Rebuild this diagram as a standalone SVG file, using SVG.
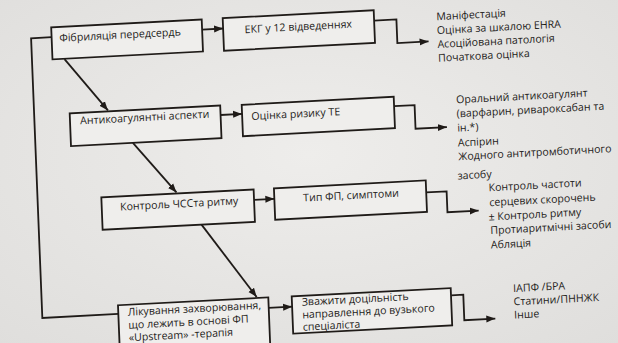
<svg xmlns="http://www.w3.org/2000/svg" width="618" height="343" viewBox="0 0 618 343">
  <defs>
    <marker id="arr" markerUnits="userSpaceOnUse" markerWidth="10" markerHeight="8" refX="9" refY="4" orient="auto">
      <path d="M0,0.5 L9,4 L0,7.5 z" fill="#1f1b18"/>
    </marker>
    <radialGradient id="paper" cx="50%" cy="45%" r="75%">
      <stop offset="0" stop-color="#eeedeb"/>
      <stop offset="1" stop-color="#dfdedc"/>
    </radialGradient>
  </defs>
  <style>
    .box { fill: #efeeec; stroke: #1f1b18; stroke-width: 1.8; }
    .ln { fill: none; stroke: #1f1b18; stroke-width: 1.8; stroke-linejoin: miter; }
    .arr { marker-end: url(#arr); }
    text { font-family: "Open Sans", "Noto Sans", sans-serif; font-size: 10.6px; fill: #1e1c1a; }
  </style>
  <rect width="618" height="343" fill="url(#paper)"/>

  <!-- the printed page sits slightly skewed -->
  <g transform="matrix(1,-0.0524,0.0402,1,-6.874,16.19)">
    <g id="connectors">
      <polyline class="ln" points="57.5,24 37,24 37,303.7 113,303.7"/>
      <line class="ln arr" x1="208" y1="24.3" x2="229" y2="24.3"/>
      <polyline class="ln arr" points="380,24.3 402.3,24.3 402.3,48 433.5,48"/>
      <line class="ln arr" x1="69.5" y1="46.5" x2="110.8" y2="100"/>
      <line class="ln arr" x1="223" y1="110.5" x2="244.5" y2="110.5"/>
      <polyline class="ln arr" points="396.5,110.8 417,110.8 417,134.4 448.4,134.4"/>
      <line class="ln arr" x1="134.4" y1="133.7" x2="175.9" y2="185.5"/>
      <line class="ln arr" x1="253" y1="197" x2="273.3" y2="197"/>
      <polyline class="ln arr" points="425,198.5 445.5,198.5 445.5,219.4 476.7,219.4"/>
      <line class="ln arr" x1="199.6" y1="218.9" x2="251.7" y2="294"/>
      <line class="ln arr" x1="263" y1="305.5" x2="286.7" y2="305.5"/>
      <polyline class="ln arr" points="446,302.5 458,302.5 458,328 489,328"/>
    </g>

    <g id="af">
      <rect class="box" x="57.5" y="14.2" width="150.5" height="32"/>
      <text x="65.2" y="29">Фібриляція передсердь</text>
    </g>
    <g id="ecg">
      <rect class="box" x="229" y="14" width="151" height="32.6"/>
      <text x="250.5" y="30.1">ЕКГ у 12 відведеннях</text>
    </g>
    <g id="ecg-out">
      <text x="442.3" y="27.3">Маніфестація</text>
      <text x="442.3" y="41.1">Оцінка за шкалою EHRA</text>
      <text x="442.3" y="54.9">Асоційована патологія</text>
      <text x="442.3" y="68.7">Початкова оцінка</text>
    </g>
    <g id="anticoag">
      <rect class="box" x="72.5" y="101" width="150.5" height="32.7"/>
      <text x="82.6" y="112.5">Антикоагулянтні аспекти</text>
    </g>
    <g id="te-risk">
      <rect class="box" x="244.5" y="101.4" width="152" height="31.4"/>
      <text x="253.8" y="117">Оцінка ризику ТЕ</text>
    </g>
    <g id="te-out">
      <text x="458.7" y="111.2">Оральний антикоагулянт</text>
      <text x="458.7" y="125.2">(варфарин, ривароксабан та</text>
      <text x="458.7" y="139.4">ін.*)</text>
      <text x="458.7" y="154.4">Аспірин</text>
      <text x="458.7" y="168">Жодного антитромботичного</text>
      <text x="457" y="187.2">засобу</text>
    </g>
    <g id="rate">
      <rect class="box" x="100.7" y="186.5" width="152.3" height="32.4"/>
      <text x="119.1" y="200.6">Контроль ЧССта ритму</text>
    </g>
    <g id="af-type">
      <rect class="box" x="273.3" y="186.5" width="151.8" height="31.4"/>
      <text x="302.1" y="201.2">Тип ФП, симптоми</text>
    </g>
    <g id="rate-out">
      <text x="487.6" y="200.6">Контроль частоти</text>
      <text x="487.6" y="215.5">серцевих скорочень</text>
      <text x="486.3" y="229.8">± Контроль ритму</text>
      <text x="487.6" y="243.5">Протиаритмічні засоби</text>
      <text x="487.6" y="258">Абляція</text>
    </g>
    <g id="upstream">
      <rect class="box" x="113" y="295" width="150.3" height="50"/>
      <text x="122.6" y="306">Лікування захворювання,</text>
      <text x="122.6" y="319">що лежить в основі ФП</text>
      <text x="122.6" y="331.5">«Upstream» -терапія</text>
    </g>
    <g id="referral">
      <rect class="box" x="286.7" y="295.3" width="159" height="37.2"/>
      <text x="296.5" y="305">Зважити доцільність</text>
      <text x="296.5" y="317.8">направлення до вузького</text>
      <text x="296.5" y="330">спеціаліста</text>
    </g>
    <g id="referral-out">
      <text x="508" y="302.5">ІАПФ /БРА</text>
      <text x="508" y="315.8">Статини/ПННЖК</text>
      <text x="508" y="329">Інше</text>
    </g>
  </g>
</svg>
